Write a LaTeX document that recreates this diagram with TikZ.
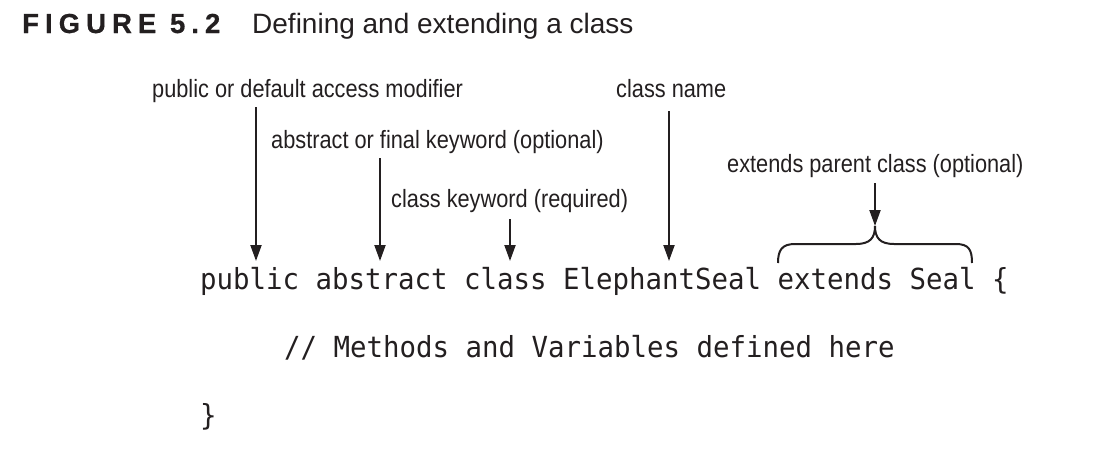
\documentclass[tikz,border=0pt]{standalone}
\usepackage{fontspec}
\setmainfont{Liberation Sans}
\newfontfamily\condfont{Liberation Sans}[FakeStretch=0.87]
\newfontfamily\titlefont{Liberation Sans Bold}[LetterSpace=22,FakeBold=0.6]
\newfontfamily\codefont{DejaVu Sans Mono}[FakeStretch=0.945]
\usetikzlibrary{arrows.meta}
\definecolor{ink}{HTML}{231F20}
\tikzset{
  lbl/.style={anchor=base west, inner sep=0pt, text=ink, font=\condfont\fontsize{25}{28}\selectfont},
  code/.style={anchor=base west, inner sep=0pt, text=ink, font=\codefont\fontsize{29}{32}\selectfont},
  arr/.style={draw=ink, line width=2pt, -{Triangle[width=11pt,length=16pt]}},
  brc/.style={draw=ink, line width=2pt}
}
\begin{document}
\begin{tikzpicture}[x=1pt,y=-1pt]
\useasboundingbox (0,0) rectangle (1110,450);
% title
\node[anchor=base west, inner sep=0pt, text=ink, font=\titlefont\fontsize{27.5}{31}\selectfont] (fig) at (22,33) {FIGURE 5.2};
\node[anchor=base west, inner sep=0pt, text=ink, font=\fontsize{28}{32}\selectfont] (cap) at (252,33) {Defining and extending a class};
% labels
\node[lbl] (l1) at (152,97) {public or default access modifier};
\node[lbl] (l2) at (271,148) {abstract or final keyword (optional)};
\node[lbl] (l3) at (391,207) {class keyword (required)};
\node[lbl] (l4) at (616,97) {class name};
\node[lbl] (l5) at (727,172) {extends parent class (optional)};
% code
\node[code] (c1) at (200,289) {public abstract class ElephantSeal extends Seal \{};
\node[code] (c2) at (284,357) {// Methods and Variables defined here};
\node[code] (c3) at (200,425) {\}};
% connector endpoints
\coordinate (s1) at (256,107); \coordinate (e1) at (256,261);
\coordinate (s2) at (380,158); \coordinate (e2) at (380,261);
\coordinate (s3) at (510,219); \coordinate (e3) at (510,261);
\coordinate (s4) at (669,111); \coordinate (e4) at (669,261);
\coordinate (s5) at (875,183); \coordinate (e5) at (875,226);
\draw[arr] (s1) -- (e1);
\draw[arr] (s2) -- (e2);
\draw[arr] (s3) -- (e3);
\draw[arr] (s4) -- (e4);
\draw[arr] (s5) -- (e5);
% brace
\draw[brc] (778,263) .. controls (778,250) and (782,244) .. (795,244)
  -- (856,244) .. controls (870,244) and (875,238) .. (e5)
  .. controls (875,238) and (880,244) .. (894,244)
  -- (956,244) .. controls (969,244) and (972,250) .. (972,263);
\end{tikzpicture}
\end{document}
